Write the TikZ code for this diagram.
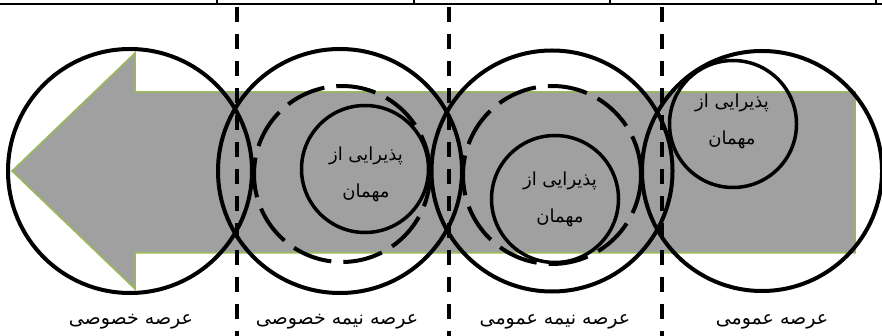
\documentclass[tikz,border=0pt]{standalone}
\usepackage{fontspec}
\newfontfamily\arabicfont[Script=Arabic]{DejaVu Sans}
\TeXXeTstate=1
\usepackage{tikz}
\definecolor{arrowgray}{RGB}{160,160,160}
\definecolor{arrowgreen}{RGB}{155,187,89}
\tikzset{
  zone/.style={circle, draw=black, line width=4pt, inner sep=0pt},
  guestring/.style={circle, draw=black, line width=4pt, dash pattern=on 40pt off 12pt, inner sep=0pt},
  guest/.style={circle, draw=black, line width=3.5pt, inner sep=0pt, minimum size=127pt},
  guesttext/.style={font=\arabicfont\fontsize{18}{37}\selectfont, align=center},
  zonelabel/.style={font=\arabicfont\fontsize{19}{22}\selectfont},
  border/.style={dashed, line width=3.5pt, dash pattern=on 15pt off 12pt}
}

\begin{document}
\begin{tikzpicture}[x=1pt, y=-1pt]
    \useasboundingbox (0,0) rectangle (882,336);

    % table edge
    \draw[line width=1.5pt] (0,4) -- (882,4);
    \foreach \x in {217,414,610,876}
      \draw[line width=1.5pt] (\x,0) -- (\x,4);

    % big arrow
    \draw[fill=arrowgray, draw=arrowgreen, line width=1.5pt]
      (12,171) -- (135,53) -- (135,92) -- (855,92) -- (855,253)
      -- (135,253) -- (135,289) -- cycle;

    % zones
    \node[zone, minimum size=244pt] (private) at (130,171) {};
    \node[zone, minimum size=244pt] (semiprivate) at (340,171) {};
    \node[zone, minimum size=241pt] (semipublic) at (552,171) {};
    \node[zone, minimum size=240pt] (public) at (762,171) {};

    \node[guestring, minimum size=176pt] (ring2) at (342,174) {};
    \node[guestring, minimum size=178pt] (ring3) at (552,175) {};

    \node[guest] (guest2) at (365,169) {};
    \node[guest] (guest3) at (555,199) {};
    \node[guest] (guest4) at (733,124) {};

    \node[guesttext] (t2) at (366,174) {\beginR پذیرایی از\endR\\\beginR مهمان\endR};
    \node[guesttext] (t3) at (560,199) {\beginR پذیرایی از\endR\\\beginR مهمان\endR};
    \node[guesttext] (t4) at (732,121) {\beginR پذیرایی از\endR\\\beginR مهمان\endR};

    % borders between zones
    \foreach \x in {237,449,662}
      \draw[border] (\x,7) -- (\x,336);

    \node[zonelabel] (l1) at (131,322) {\beginR عرصه خصوصی\endR};
    \node[zonelabel] (l2) at (337,322) {\beginR عرصه نیمه خصوصی\endR};
    \node[zonelabel] (l3) at (555,322) {\beginR عرصه نیمه عمومی\endR};
    \node[zonelabel] (l4) at (772,322) {\beginR عرصه عمومی\endR};
\end{tikzpicture}
\end{document}
